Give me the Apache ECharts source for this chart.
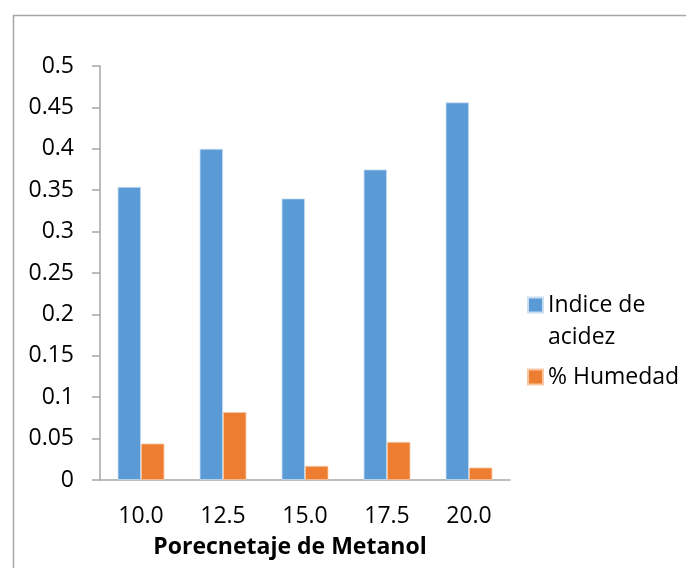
<!DOCTYPE html>
<html>
<head>
<meta charset="utf-8">
<script src="https://cdn.jsdelivr.net/npm/echarts@6/dist/echarts.min.js"></script>
<style>html,body{margin:0;padding:0;background:#fff;}#c{width:686px;height:568px;}</style>
</head>
<body>
<div id="c"></div>
<script>
const categories = ['10.0', '12.5', '15.0', '17.5', '20.0'];
const indiceAcidez = [0.354, 0.40, 0.34, 0.375, 0.456];
const humedad = [0.044, 0.082, 0.017, 0.046, 0.015];
const seriesNames = ['Indice de acidez', '% Humedad'];
const xTitle = 'Porecnetaje de Metanol';

const FONT = '"Open Sans", sans-serif';
const chart = echarts.init(document.getElementById('c'), null, {renderer: 'canvas'});
chart.setOption({
  backgroundColor: '#fff',
  animation: false,
  graphic: [{
    type: 'rect', left: 11, top: 13, silent: true,
    shape: {width: 720, height: 620},
    style: {fill: 'none', stroke: '#a6a6a6', lineWidth: 1.5}
  }],
  grid: {left: 100, right: 176, top: 66, bottom: 88, containLabel: false},
  legend: [{
    data: [seriesNames[0]], orient: 'vertical', left: 527, top: 257, padding: 0,
    itemWidth: 15, itemHeight: 15, icon: 'rect', itemGap: 0,
    formatter: () => ' \nIndice de\nacidez',
    textStyle: {fontFamily: FONT, fontSize: 23, color: '#000', lineHeight: 32}
  }, {
    data: [seriesNames[1]], orient: 'vertical', left: 527, top: 361, padding: 0,
    itemWidth: 15, itemHeight: 15, icon: 'rect',
    textStyle: {fontFamily: FONT, fontSize: 23, color: '#000', lineHeight: 32}
  }],
  xAxis: {
    type: 'category', data: categories,
    axisLine: {lineStyle: {color: '#a6a6a6', width: 1.5}},
    axisTick: {show: false},
    axisLabel: {fontFamily: FONT, fontSize: 23, color: '#000', margin: 25},
    name: xTitle, nameLocation: 'middle', nameGap: 56,
    nameTextStyle: {fontFamily: FONT, fontSize: 23, fontWeight: 'bold', color: '#000', padding: [0, 30, 0, 0]}
  },
  yAxis: {
    type: 'value', min: 0, max: 0.5, interval: 0.05,
    axisLine: {show: true, lineStyle: {color: '#a6a6a6', width: 1.5}},
    axisTick: {show: true, length: 8, lineStyle: {color: '#a6a6a6', width: 1.5}},
    splitLine: {show: false},
    axisLabel: {fontFamily: FONT, fontSize: 23, color: '#000', margin: 26}
  },
  series: [{
    name: seriesNames[0], type: 'bar', data: indiceAcidez,
    barGap: '0%', barCategoryGap: '43%',
    itemStyle: {color: '#5b9bd5', borderColor: '#c9def2', borderWidth: 0.8}
  }, {
    name: seriesNames[1], type: 'bar', data: humedad,
    barGap: '0%', barCategoryGap: '43%',
    itemStyle: {color: '#ed7d31', borderColor: '#f7c7a5', borderWidth: 0.8}
  }]
});
</script>
</body>
</html>
